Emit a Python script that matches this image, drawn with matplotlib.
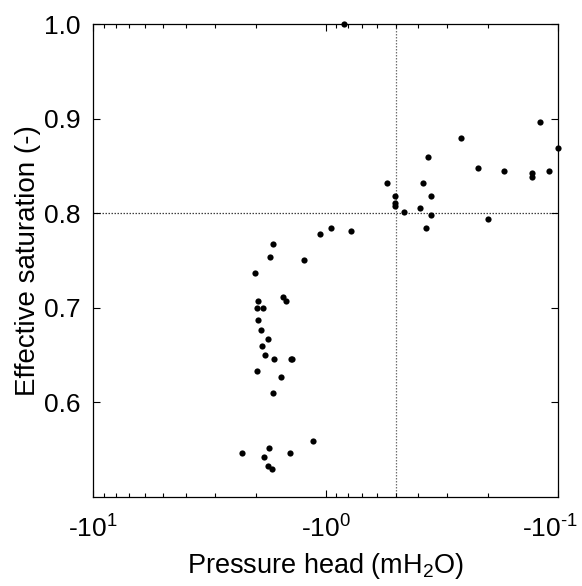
import matplotlib
matplotlib.use("Agg")
import matplotlib.pyplot as plt
from matplotlib.ticker import FixedLocator, FixedFormatter, LogLocator, NullFormatter
from matplotlib.transforms import ScaledTranslation

plt.rcParams['font.family'] = ['Liberation Sans', 'DejaVu Sans']
plt.rcParams['mathtext.fontset'] = 'custom'
plt.rcParams['mathtext.rm'] = 'Liberation Sans'
plt.rcParams['mathtext.it'] = 'Liberation Sans'
plt.rcParams['mathtext.bf'] = 'Liberation Sans'

# |pressure head| (m H2O); axis shows negative values
head_abs = [0.834, 0.543, 0.503, 0.503, 0.503, 0.462, 0.393, 0.383, 0.362, 0.353,
            0.353, 0.371, 0.261, 0.221, 0.200, 0.171, 0.130, 0.130, 0.120, 0.110,
            0.100,
            0.946, 1.061, 0.778, 1.244, 1.678, 1.741, 2.004, 1.945, 1.966, 1.860,
            1.945, 1.888, 1.773, 1.875, 1.827, 1.665, 1.416, 1.389, 1.966, 1.558,
            1.690, 1.518, 1.474, 1.134, 2.288, 1.747, 1.847, 1.426, 1.767, 1.709]
saturation = [1.000, 0.832, 0.818, 0.811, 0.808, 0.801, 0.805, 0.832, 0.859, 0.818,
              0.798, 0.784, 0.879, 0.848, 0.794, 0.845, 0.842, 0.838, 0.896, 0.845,
              0.869,
              0.784, 0.778, 0.781, 0.751, 0.767, 0.754, 0.737, 0.707, 0.700, 0.700,
              0.687, 0.677, 0.667, 0.660, 0.650, 0.646, 0.646, 0.646, 0.633, 0.627,
              0.610, 0.711, 0.707, 0.559, 0.546, 0.552, 0.542, 0.546, 0.533, 0.529]

x_ticks = [10, 1, 0.1]
x_tick_labels = [r'-10$^{1}$', r'-10$^{0}$', r'-10$^{\text{-}1}$']
y_ticks = [0.6, 0.7, 0.8, 0.9, 1.0]
ref_head = 0.5
ref_sat = 0.8

fig = plt.figure(figsize=(5.82, 5.86), dpi=100)
ax = fig.add_axes([0.160, 0.152, 0.799, 0.807])

ax.axvline(ref_head, color='#707070', lw=0.9, ls=(0, (1.2, 1.2)), zorder=1)
ax.axhline(ref_sat, color='#404040', lw=0.9, ls=(0, (1.2, 1.2)), zorder=1)
ax.scatter(head_abs, saturation, s=20, color='black', zorder=3, linewidths=0,
           clip_on=False)

ax.set_xscale('log')
ax.set_xlim(10, 0.1)
ax.set_ylim(0.5, 1.0)

ax.xaxis.set_major_locator(FixedLocator(x_ticks))
ax.xaxis.set_major_formatter(FixedFormatter(x_tick_labels))
ax.xaxis.set_minor_locator(LogLocator(base=10, subs=range(2, 10)))
ax.xaxis.set_minor_formatter(NullFormatter())
ax.set_yticks(y_ticks)
ax.set_yticklabels(['%.1f' % v for v in y_ticks])

ax.tick_params(which='both', direction='in', top=True, right=True, labelsize=19, width=0.8)
ax.tick_params(which='major', length=5)
ax.tick_params(axis='x', which='major', pad=13)
ax.tick_params(axis='y', which='major', pad=9)
ax.tick_params(which='minor', length=3)
for s in ax.spines.values():
    s.set_linewidth(0.9)

ax.set_xlabel(r'Pressure head (mH$_{2}$O)', fontsize=19.5, labelpad=6)
ax.set_ylabel('Effective saturation (-)', fontsize=20, labelpad=2)

# nudge the last x tick label so it stays inside the figure like the original
fig.canvas.draw()
last = ax.xaxis.get_majorticklabels()[-1]
last.set_transform(last.get_transform() + ScaledTranslation(-8 / 100, 0, fig.dpi_scale_trans))

fig.savefig('out.png', dpi=100)
